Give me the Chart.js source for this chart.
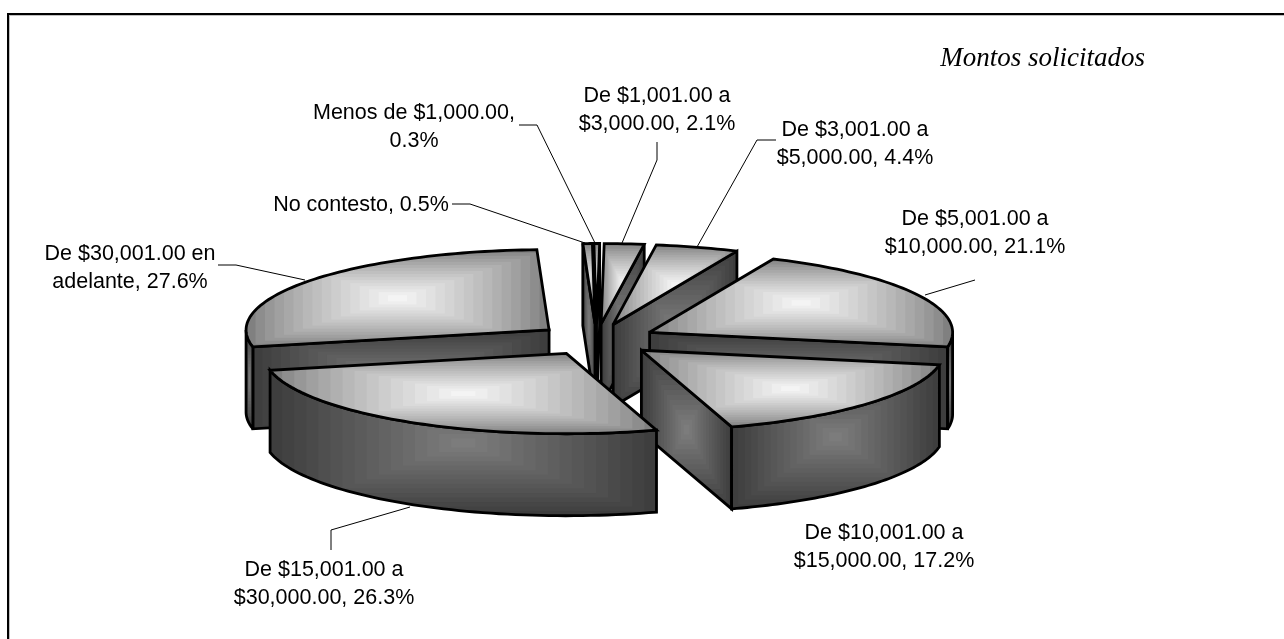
<!DOCTYPE html>
<html>
<head>
<meta charset="utf-8">
<script src="https://cdn.jsdelivr.net/npm/chart.js@4"></script>
<style>html,body{margin:0;padding:0;background:#fff}canvas{display:block}</style>
</head>
<body>
<canvas id="c" width="1284" height="639"></canvas>
<script>
const categories = ['Menos de $1,000.00','De $1,001.00 a $3,000.00','De $3,001.00 a $5,000.00','De $5,001.00 a $10,000.00','De $10,001.00 a $15,000.00','De $15,001.00 a $30,000.00','De $30,001.00 en adelante','No contesto'];
const values = [0.3,2.1,4.4,21.1,17.2,26.3,27.6,0.5];
const chartTitle = 'Montos solicitados';

// layout of the hand-placed data labels: centre x, first-line middle y
const labelAnchors = [[414,113],[657,96],[855,130],[975,219],[884,533],[324,570],[130,254],[361,205]];
const leaderLines = [
  [[519,125],[537,125],[595,243]],
  [[657,142],[657,160],[622,243]],
  [[776,140],[757,140],[697,247]],
  [[975,280],[925,295]],
  [],
  [[331,550],[331,530],[410,507]],
  [[218,265],[236,265],[305,280]],
  [[452,204],[470,204],[585,243]]
];
const TILT = 0.265, DEPTH = 82;
const RADIUS = 243, ARC_OFFSET = 240; // ArcElement shifts by offset/4 and grows by offset/4

function lerpGrey(a,b,t){const v=Math.round(a+(b-a)*t);return `rgb(${v},${v},${v})`;}
function tracePoly(ctx,pts){ctx.beginPath();pts.forEach((p,i)=>i?ctx.lineTo(p[0],p[1]):ctx.moveTo(p[0],p[1]));ctx.closePath();}
function fillPathGradient(ctx,pts,edge,centre,steps,gamma){
  const xs=pts.map(p=>p[0]),ys=pts.map(p=>p[1]);
  const x0=Math.min(...xs),x1=Math.max(...xs),y0=Math.min(...ys),y1=Math.max(...ys);
  ctx.save();tracePoly(ctx,pts);ctx.clip();
  for(let i=0;i<steps;i++){
    const t=i/steps,ix=t*(x1-x0)/2,iy=t*(y1-y0)/2;
    ctx.fillStyle=lerpGrey(edge,centre,Math.pow(t,gamma));
    ctx.fillRect(x0+ix,y0+iy,(x1-x0)-2*ix,(y1-y0)-2*iy);
  }
  ctx.restore();
}
function strokePoly(ctx,pts){
  tracePoly(ctx,pts);
  ctx.strokeStyle='#000';ctx.lineWidth=2.8;ctx.lineJoin='miter';ctx.miterLimit=3;ctx.stroke();
}

const pie3d = {
  id:'pie3d',
  beforeDraw(chart){
    const {ctx}=chart;
    ctx.save();
    ctx.fillStyle='#fff';ctx.fillRect(0,0,chart.width,chart.height);
    ctx.fillStyle='#c0c0c0';
    ctx.fillRect(9,15,chart.width-9,1);ctx.fillRect(9,15,1,chart.height-15);
    ctx.fillStyle='#000';
    ctx.fillRect(7,13,chart.width-7,2);ctx.fillRect(7,13,2,chart.height-13);
    ctx.restore();
  },
  beforeDatasetDraw(chart,args){
    const {ctx}=chart;
    const arcs=args.meta.data;
    const cy=arcs[0].y,cx=arcs[0].x;
    const info=arcs.map(arc=>{
      const s=arc.startAngle,e=arc.endAngle,m=(s+e)/2;
      const shift=arc.options.offset/4,r=arc.outerRadius+shift;
      const ax=cx+Math.cos(m)*shift, ayRaw=Math.sin(m)*shift;
      const P=a=>[ax+r*Math.cos(a),cy+TILT*(ayRaw+r*Math.sin(a))];
      const apex=[ax,cy+TILT*ayRaw];
      return {arc,s,e,P,apex};
    }).sort((a,b)=>a.apex[1]-b.apex[1]);
    const down=p=>[p[0],p[1]+DEPTH];
    info.forEach(({arc,s,e,P,apex})=>{
      const wall=pts=>{fillPathGradient(ctx,pts,62,128,16,1);strokePoly(ctx,pts);};
      if(Math.cos(s)<0){wall([apex,P(s),down(P(s)),down(apex)]);}
      if(Math.cos(e)>0){wall([apex,P(e),down(P(e)),down(apex)]);}
      const a0=Math.max(s,0),a1=Math.min(e,Math.PI);
      if(a1>a0){
        const top=[];for(let i=0;i<=60;i++)top.push(P(a0+(a1-a0)*i/60));
        wall(top.concat(top.slice().reverse().map(down)));
      }
      // top face: the library's own arc, squashed, then shaded
      ctx.save();
      ctx.translate(cx,cy);ctx.scale(1,TILT);ctx.translate(-cx,-cy);
      arc.draw(ctx);
      ctx.restore();
      const n=Math.max(4,Math.ceil((e-s)*40));
      const face=[apex];for(let i=0;i<=n;i++)face.push(P(s+(e-s)*i/n));
      fillPathGradient(ctx,face,128,250,16,0.8);
      strokePoly(ctx,face);
    });
    return false;
  },
  afterDraw(chart){
    const {ctx}=chart;
    ctx.save();
    ctx.strokeStyle='#000';ctx.lineWidth=1;
    leaderLines.forEach(l=>{
      if(!l.length)return;
      ctx.beginPath();l.forEach((p,i)=>i?ctx.lineTo(p[0],p[1]):ctx.moveTo(p[0],p[1]));ctx.stroke();
    });
    ctx.fillStyle='#000';ctx.font='21.5px "Liberation Sans"';ctx.textAlign='center';ctx.textBaseline='middle';
    categories.forEach((c,i)=>{
      const words=(c+', '+values[i].toFixed(1)+'%').split(' ');
      const lines=[words.slice(0,3).join(' ')];
      if(words.length>3)lines.push(words.slice(3).join(' '));
      lines.forEach((t,j)=>ctx.fillText(t,labelAnchors[i][0],labelAnchors[i][1]+j*28));
    });
    ctx.restore();
  }
};

new Chart(document.getElementById('c'),{
  type:'pie',
  plugins:[pie3d],
  data:{labels:categories,datasets:[{data:values,backgroundColor:'#808080',borderWidth:0,offset:ARC_OFFSET,clip:false}]},
  options:{
    responsive:false,animation:false,
    rotation:-0.5,radius:RADIUS,
    layout:{padding:{left:48,right:139,top:0,bottom:35}},
    plugins:{
      legend:{display:false},tooltip:{enabled:false},
      title:{display:true,text:chartTitle,align:'end',color:'#000',
        font:{family:'"Liberation Serif"',style:'italic',weight:'normal',size:27,lineHeight:1.2},
        padding:{top:43,bottom:0}}
    }
  }
});
</script>
</body>
</html>
